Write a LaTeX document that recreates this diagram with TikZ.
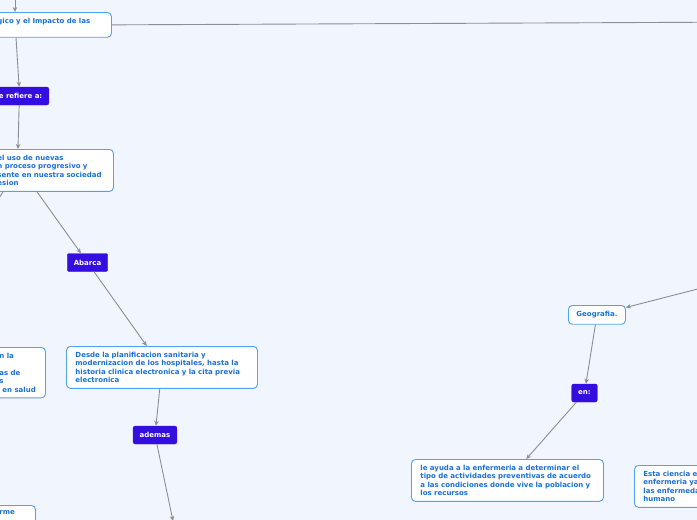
\documentclass[tikz,border=0pt]{standalone}
\usepackage{fontspec}
\setmainfont{DejaVu Sans}
\usetikzlibrary{arrows.meta,positioning}
\definecolor{bgmap}{RGB}{241,245,254}
\definecolor{edgeblue}{RGB}{80,162,245}
\definecolor{txtblue}{RGB}{26,112,216}
\definecolor{topic}{RGB}{52,14,222}
\definecolor{link}{RGB}{140,142,150}
\tikzset{
  box/.style={draw=edgeblue,fill=white,line width=0.9pt,rounded corners=4pt,align=left,text=txtblue,font=\fontsize{7}{8.5}\selectfont\bfseries,inner xsep=8pt,inner ysep=5.5pt,anchor=north west},
  tp/.style={draw=topic,fill=topic,rounded corners=2pt,text=white,font=\fontsize{7}{8.5}\selectfont\bfseries,inner xsep=6.5pt,inner ysep=0pt,minimum height=18pt},
  arr/.style={-{Stealth[length=5pt,width=4.5pt]},draw=link,line width=0.9pt}
}
\begin{document}
\begin{tikzpicture}[x=1pt,y=-1pt]
\useasboundingbox (0,0) rectangle (697,520);
\clip (0,0) rectangle (697,520);
\fill[bgmap] (0,0) rectangle (697,520);
% left branch
\node[box,text width=106pt] (title) at (-11,12) {gico y el Impacto de las\\\mbox{}};
\node[tp,anchor=east] (refiere) at (49,96) {e refiere a:};
\node[box,text width=108pt] (uso) at (-11,149) {el uso de nuevas\\n proceso progresivo y\\sente en nuestra sociedad\\esion};
\node[tp] (abarca) at (87.5,262.5) {Abarca};
\node[box,text width=173pt,inner xsep=9pt] (desde) at (66,346) {Desde la planificacion sanitaria y\\modernizacion de los hospitales, hasta la\\historia clinica electronica y la cita previa\\electronica};
\node[tp] (ademas) at (155,435) {ademas};
\node[box,text width=38pt] (salud) at (-9,347) {n la\\\mbox{}\\as de\\s\\\hspace*{3pt}en salud};
\node[box,text width=28pt] (rme) at (-9,505) {rme\\\mbox{}};
% right branch
\node[box,text width=41pt,align=center,inner ysep=6pt] (geo) at (568,305) {Geografia.};
\node[tp] (en) at (584.5,393) {en:};
\node[box,text width=174pt,inner xsep=9pt] (ayuda) at (411,459) {le ayuda a la enfermeria a determinar el\\tipo de actividades preventivas de acuerdo\\a las condiciones donde vive la poblacion y\\los recursos};
\node[box,text width=100pt,inner xsep=9pt] (ciencia) at (634,465) {Esta ciencia es\\enfermeria ya\\las enfermeda\\humano};
% ends off the page
\coordinate (top) at (15,-6);
\coordinate (far) at (760,22);
\coordinate (farr) at (760,273);
\coordinate (down) at (173,521);
\coordinate (stub) at (-6,206);
% links
\draw[arr] (top) -- ([xshift=26pt]title.north west);
\draw[arr] (title.east) -- (far);
\draw[arr] ([xshift=27pt]title.south west) -- ([xshift=27pt]refiere.north west);
\draw[arr] ([xshift=27pt]refiere.south west) -- ([xshift=29pt]uso.north west);
\draw[arr] ([xshift=48pt]uso.south west) -- (abarca);
\draw[link,line width=0.9pt] ([xshift=14pt]uso.south west) -- (stub);
\draw[arr] (abarca) -- (desde);
\draw[arr] (desde) -- (ademas);
\draw[arr] (ademas) -- (down);
\draw[arr] (farr) -- (geo);
\draw[arr] (geo) -- (en);
\draw[arr] (en) -- (ayuda);
\end{tikzpicture}
\end{document}
